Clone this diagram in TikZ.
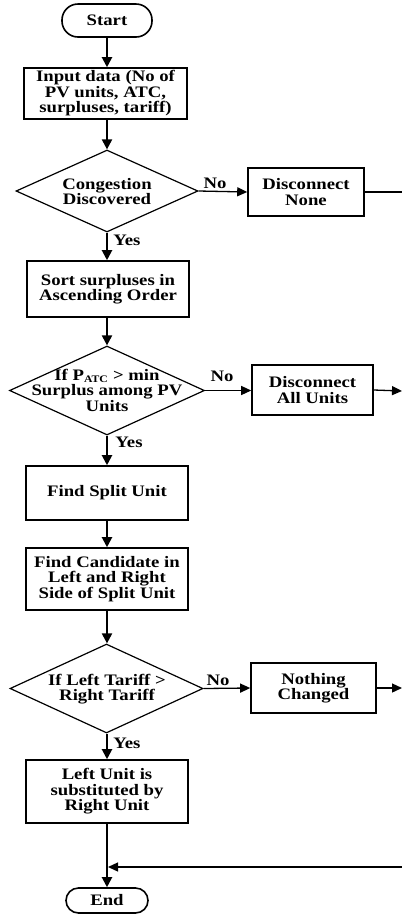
\documentclass[tikz,border=0pt]{standalone}
\usepackage{fontspec}
\setmainfont{Liberation Serif}[FakeStretch=1.17]
\usetikzlibrary{shapes.geometric,arrows.meta}
\begin{document}
\begin{tikzpicture}[x=1pt,y=-1pt,
  txt/.style={font=\fontsize{16}{15.5}\selectfont\bfseries, align=center, inner sep=0pt},
  box/.style={draw, line width=1.6pt, inner sep=0pt, align=center, font=\fontsize{16}{15.5}\selectfont\bfseries},
  term/.style={box, rounded corners=#1},
  dia/.style={draw, diamond, line width=1.2pt, inner sep=0pt},
  flow/.style={line width=2pt, -{Triangle[length=10pt,width=10pt]}},
  side/.style={line width=1.3pt, -{Triangle[length=10pt,width=9pt]}},
  plain/.style={line width=1.3pt},
]
\useasboundingbox (0,0) rectangle (402,914);

% nodes
\node[term=16pt, minimum width=90pt, minimum height=33pt] (start) at (107,20.5) {Start};
\node[box, minimum width=163pt, minimum height=51pt] (input) at (105.5,93.5) {Input data (No of\\PV units, ATC,\\surpluses, tariff)};
\node[dia, minimum width=182pt, minimum height=82pt] (d1) at (107,191) {};
\node[txt] (d1t) at (107,191.5) {Congestion\\Discovered};
\node[box, minimum width=116pt, minimum height=48pt] (dnone) at (306,192) {Disconnect\\None};
\node[box, minimum width=162pt, minimum height=56pt] (sort) at (108,289) {Sort surpluses in\\Ascending Order};
\node[dia, minimum width=195pt, minimum height=89pt] (d2) at (107,390.5) {};
\node[txt] (d2t) at (107,390) {If P\textsubscript{\fontsize{10}{10}\selectfont ATC} {>} min\\Surplus among PV\\Units};
\node[box, minimum width=121pt, minimum height=50pt] (dall) at (312.5,390) {Disconnect\\All Units};
\node[box, minimum width=162pt, minimum height=54pt] (split) at (107,493) {Find Split Unit};
\node[box, minimum width=162pt, minimum height=62pt] (cand) at (107,579) {Find Candidate in\\Left and Right\\Side of Split Unit};
\node[dia, minimum width=193pt, minimum height=89pt] (d3) at (106.5,688.5) {};
\node[txt] (d3t) at (107,689) {If Left Tariff {>}\\Right Tariff};
\node[box, minimum width=125pt, minimum height=50pt] (nothing) at (313.5,688) {Nothing\\Changed};
\node[box, minimum width=162pt, minimum height=63pt] (left) at (107,791.5) {Left Unit is\\substituted by\\Right Unit};
\node[term=12.5pt, minimum width=82pt, minimum height=25pt] (end) at (107,900.5) {End};

% free ends at the right edge
\coordinate (r1) at (402,192);
\coordinate (r2) at (402,391);
\coordinate (r3) at (402,688);
\coordinate (r4) at (402,867);

% main flow
\draw[flow] (start.south) -- (start.south |- input.north);
\draw[flow] (input.south -| start.south) -- (d1.north);
\draw[flow] (d1.south) -- (d1.south |- sort.north);
\draw[flow] (sort.south -| d1.south) -- (d2.north);
\draw[flow] (d2.south) -- (d2.south |- split.north);
\draw[flow] (split.south) -- (cand.north);
\draw[flow] (cand.south) -- (d3.north -| cand.south);
\draw[flow] (d3.south -| cand.south) -- (left.north);
\draw[flow] (left.south) -- (end.north);

% side branches
\draw[side] (d1.east) -- (dnone.west);
\draw[plain] (dnone.east) -- (r1);
\draw[side] (d2.east) -- (d2.east -| dall.west);
\draw[side] (dall.east) -- (r2);
\draw[side] (d3.east) -- (nothing.west);
\draw[side] (nothing.east) -- (r3);
\draw[side] (r4) -- ([xshift=1pt]r4 -| left.south);

% labels
\node[txt] (no1) at (215,183) {No};
\node[txt] (no2) at (222,376) {No};
\node[txt] (no3) at (218,680) {No};
\node[txt] (yes1) at (127,240) {Yes};
\node[txt] (yes2) at (129,442) {Yes};
\node[txt] (yes3) at (127,743) {Yes};
\end{tikzpicture}
\end{document}
